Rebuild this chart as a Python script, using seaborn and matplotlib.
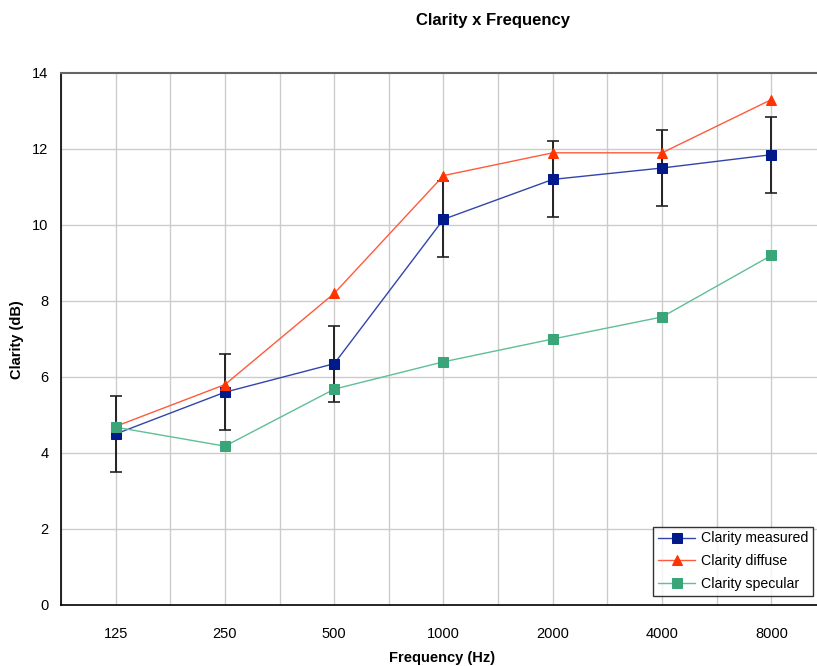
import numpy as np
import pandas as pd
import seaborn as sns
import matplotlib.pyplot as plt

# values
freqs = ["125", "250", "500", "1000", "2000", "4000", "8000"]
measured = [4.5, 5.6, 6.35, 10.15, 11.2, 11.5, 11.85]
measured_err = [1, 1, 1, 1, 1, 1, 1]
diffuse = [4.7, 5.8, 8.2, 11.3, 11.9, 11.9, 13.3]
specular = [4.68, 4.18, 5.68, 6.4, 7.0, 7.58, 9.2]

sns.set_style("white")
plt.rcParams['font.family'] = ['Liberation Sans', 'DejaVu Sans']
plt.rcParams['text.color'] = 'black'
plt.rcParams['axes.labelcolor'] = 'black'
plt.rcParams['xtick.color'] = 'black'
plt.rcParams['ytick.color'] = 'black'

df = pd.DataFrame({"Frequency": freqs, "measured": measured,
                   "diffuse": diffuse, "specular": specular})

fig = plt.figure(figsize=(8.17, 6.66), dpi=100)
ax = fig.add_axes([61 / 817, 1 - 605 / 666, (826 - 61) / 817, (605 - 73) / 666])

xpos = np.arange(len(freqs))

# grid: vertical at category centres and boundaries
for xv in np.arange(-0.5, len(freqs), 0.5):
    ax.axvline(xv, color="#cccccc", lw=1, zorder=0)
for yv in range(2, 14, 2):
    ax.axhline(yv, color="#cccccc", lw=1, zorder=0)

ax.errorbar(xpos, measured, yerr=measured_err, fmt="none", ecolor="#222222",
            elinewidth=1.4, capsize=4, capthick=1.2, zorder=2)

sns.lineplot(data=df, x="Frequency", y="measured", sort=False, ax=ax,
             color="#3344aa", lw=1, marker="s", markersize=6.5,
             markerfacecolor="#001a8c", markeredgecolor="#001a8c",
             label="Clarity measured", zorder=3)
sns.lineplot(data=df, x="Frequency", y="diffuse", sort=False, ax=ax,
             color="#ff5a3c", lw=1, marker="^", markersize=7,
             markerfacecolor="#ff3300", markeredgecolor="#ff3300",
             label="Clarity diffuse", zorder=3)
sns.lineplot(data=df, x="Frequency", y="specular", sort=False, ax=ax,
             color="#5fbf95", lw=1, marker="s", markersize=6.5,
             markerfacecolor="#3ba57a", markeredgecolor="#3ba57a",
             label="Clarity specular", zorder=3)

ax.set_xlim(-0.5, len(freqs) - 0.5)
ax.set_ylim(0, 14)
ax.set_yticks(range(0, 15, 2))
ax.set_xticks(xpos)
ax.set_xticklabels(freqs)
ax.set_xticks(np.arange(-0.5, len(freqs), 1), minor=True)
ax.tick_params(axis="x", which="major", length=0, pad=16, labelsize=10.5)
ax.tick_params(axis="x", which="minor", length=5, width=1, color="black",
               direction="out")
ax.tick_params(axis="y", length=5, width=1, color="black", direction="out",
               labelsize=10.5, pad=4)

for side in ["left", "bottom"]:
    ax.spines[side].set_color("black")
    ax.spines[side].set_linewidth(1.2)
ax.spines["top"].set_color("#666666")
ax.spines["top"].set_linewidth(1.5)
ax.spines["right"].set_visible(False)

ax.set_xlabel("")
ax.set_ylabel("")
fig.text(442 / 817, 1 - 658 / 666, "Frequency (Hz)", ha="center",
         va="center", fontsize=10.5, fontweight="bold")
fig.text(17 / 817, 1 - 340 / 666, "Clarity (dB)", rotation=90, ha="center",
         va="center", fontsize=10.5, fontweight="bold")
fig.text(493 / 817, 1 - 21 / 666, "Clarity x Frequency", ha="center",
         va="center", fontsize=12, fontweight="bold")

leg = ax.legend(loc="lower right", bbox_to_anchor=(813 / 817, 1 - 596 / 666),
                bbox_transform=fig.transFigure, frameon=True, fancybox=False,
                fontsize=10.2, handlelength=2.6, borderpad=0.35,
                labelspacing=0.62, handletextpad=0.4, borderaxespad=0)
leg.get_frame().set_edgecolor("black")
leg.get_frame().set_linewidth(1)

fig.savefig("out.png", dpi=100)
